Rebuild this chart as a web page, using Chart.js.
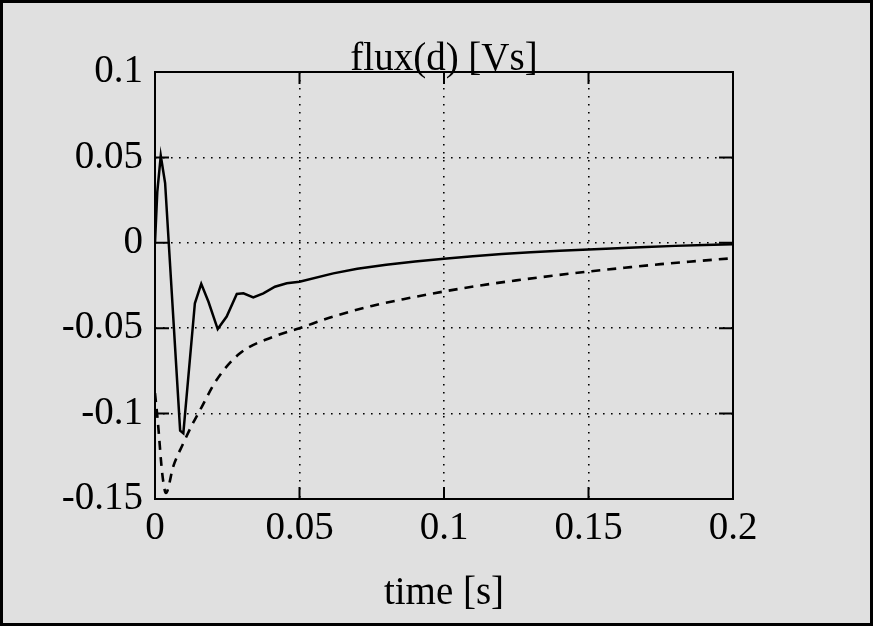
<!DOCTYPE html>
<html><head><meta charset="utf-8">
<script src="https://cdn.jsdelivr.net/npm/chart.js@4/dist/chart.umd.min.js"></script>
<style>html,body{margin:0;padding:0;background:#e0e0e0;}#wrap{width:873px;height:626px;}</style>
</head><body><div id="wrap"><canvas id="c" width="873" height="626"></canvas></div>
<script>
const solidTime = [0, 0.0008, 0.002, 0.0035, 0.0087, 0.0098, 0.0138, 0.016, 0.0185, 0.0217, 0.0248, 0.0283, 0.0306, 0.034, 0.0375, 0.0415, 0.0456, 0.05, 0.0617, 0.07, 0.08, 0.09, 0.1, 0.11, 0.12, 0.13, 0.14, 0.15, 0.16, 0.17, 0.18, 0.19, 0.2];
const solidFlux = [0.0, 0.03, 0.051, 0.035, -0.110, -0.1115, -0.0354, -0.024, -0.0345, -0.0505, -0.0432, -0.0300, -0.0296, -0.032, -0.0296, -0.0257, -0.0237, -0.0228, -0.0179, -0.0152, -0.0128, -0.0110, -0.0093, -0.0079, -0.0066, -0.0055, -0.0046, -0.0039, -0.0032, -0.0025, -0.0018, -0.0013, -0.0009];
const dashedTime = [0, 0.001, 0.0025, 0.0038, 0.0063, 0.0098, 0.0127, 0.0156, 0.0213, 0.0294, 0.041, 0.05, 0.0616, 0.075, 0.0875, 0.1, 0.1125, 0.125, 0.1375, 0.15, 0.1625, 0.175, 0.1875, 0.2];
const dashedFlux = [-0.088, -0.105, -0.135, -0.1465, -0.131, -0.1174, -0.107, -0.0979, -0.0803, -0.0647, -0.055, -0.050, -0.0432, -0.037, -0.0325, -0.0285, -0.025, -0.022, -0.0193, -0.0168, -0.0146, -0.0125, -0.0107, -0.009];
const xTicks = [0, 0.05, 0.1, 0.15, 0.2];
const yTicks = [-0.15, -0.1, -0.05, 0, 0.05, 0.1];
const chartTitle = 'flux(d) [Vs]';
const xTitle = 'time [s]';

const FONT = 'Liberation Serif, Times New Roman, serif';
const toXY = (xs, ys) => xs.map((x, i) => ({x: x, y: ys[i]}));

const framePlugin = {
  id: 'framePlugin',
  beforeDraw(chart) {
    const c = chart.ctx;
    c.save(); c.fillStyle = '#e0e0e0'; c.fillRect(0, 0, chart.width, chart.height); c.restore();
  },
  afterDraw(chart) {
    const c = chart.ctx, a = chart.chartArea, sx = chart.scales.x, sy = chart.scales.y;
    c.save();
    c.strokeStyle = '#000';
    c.lineWidth = 2;
    c.strokeRect(a.left, a.top, a.right - a.left, a.bottom - a.top);
    c.beginPath();
    xTicks.forEach(v => {
      const px = sx.getPixelForValue(v);
      c.moveTo(px, a.bottom); c.lineTo(px, a.bottom - 12);
      c.moveTo(px, a.top); c.lineTo(px, a.top + 12);
    });
    yTicks.forEach(v => {
      const py = sy.getPixelForValue(v);
      c.moveTo(a.left, py); c.lineTo(a.left + 14, py);
      c.moveTo(a.right, py); c.lineTo(a.right - 14, py);
    });
    c.stroke();
    c.lineWidth = 3;
    c.strokeRect(1.5, 1.5, chart.width - 3, chart.height - 3);
    c.restore();
  }
};

new Chart(document.getElementById('c'), {
  type: 'line',
  data: {
    datasets: [
      {data: toXY(solidTime, solidFlux), borderColor: '#000', borderWidth: 2.5, pointRadius: 0, tension: 0, fill: false},
      {data: toXY(dashedTime, dashedFlux), borderColor: '#000', borderWidth: 2.6, borderDash: [9, 7], pointRadius: 0, cubicInterpolationMode: 'monotone', fill: false}
    ]
  },
  options: {
    responsive: false, animation: false, devicePixelRatio: 1,
    layout: {padding: {left: 0, right: 140, top: 0, bottom: 0}},
    plugins: {legend: {display: false}, tooltip: {enabled: false}, title: {display: false}},
    scales: {
      x2: {
        type: 'linear', position: 'top', min: 0, max: 0.2,
        afterFit: s => { s.height = 72; },
        ticks: {display: false},
        grid: {display: false},
        border: {display: false},
        title: {display: true, text: chartTitle, color: '#000', font: {family: FONT, size: 39, lineHeight: 1}, padding: {top: 40, bottom: 0}}
      },
      x: {
        type: 'linear', min: 0, max: 0.2,
        afterBuildTicks: s => { s.ticks = xTicks.map(v => ({value: v})); },
        afterFit: s => { s.height = 127; },
        ticks: {color: '#000', padding: 6, maxRotation: 0, autoSkip: false, font: {family: FONT, size: 39}, callback: v => String(v)},
        grid: {color: '#000', lineWidth: 1.6, drawTicks: false},
        border: {display: false, dash: [1.6, 6.4]},
        title: {display: true, text: xTitle, color: '#000', font: {family: FONT, size: 39, lineHeight: 1}, padding: {top: 0, bottom: 13}}
      },
      y: {
        type: 'linear', min: -0.15, max: 0.1,
        afterBuildTicks: s => { s.ticks = yTicks.map(v => ({value: v})); },
        afterFit: s => { s.width = 155; },
        ticks: {color: '#000', padding: 12, autoSkip: false, font: {family: FONT, size: 39}, callback: v => String(v)},
        grid: {color: '#000', lineWidth: 1.6, drawTicks: false},
        border: {display: false, dash: [1.6, 6.4]}
      }
    }
  },
  plugins: [framePlugin]
});
</script>
</body></html>
